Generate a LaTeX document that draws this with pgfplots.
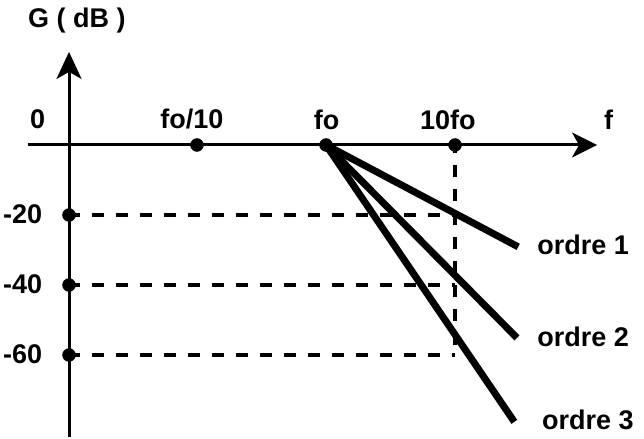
\documentclass[border=0pt]{standalone}
\usepackage{fontspec}
\setmainfont{Liberation Sans}
\usepackage{pgfplots}
\pgfplotsset{compat=1.18}
\usetikzlibrary{arrows.meta}
\newcommand\lbl{\bfseries\fontsize{27bp}{30bp}\selectfont}
\begin{document}
\begin{tikzpicture}
\begin{axis}[
  scale only axis, width=644bp, height=437bp,
  xmin=-2.527, xmax=2.465, ymin=-83.43, ymax=41.43,
  hide axis, clip=false,
]
\path (rel axis cs:0,0) rectangle (rel axis cs:1,1);
% dashed guides
\addplot[black, line width=3.2bp, dash pattern=on 12bp off 12bp] coordinates {(-2,-20) (1,-20)};
\addplot[black, line width=3.2bp, dash pattern=on 12bp off 12bp] coordinates {(-2,-40) (1,-40)};
\addplot[black, line width=3.2bp, dash pattern=on 12bp off 12bp] coordinates {(-2,-60) (1,-60)};
\addplot[black, line width=3.2bp, dash pattern=on 12bp off 12bp, dash phase=4bp] coordinates {(1,0) (1,-60)};
% axes
\addplot[black, line width=3bp, -{Stealth[length=25bp,width=25bp,inset=7bp]}] coordinates {(-2.310,0) (2.101,0)};
\addplot[black, line width=3bp, -{Stealth[length=27bp,width=25bp,inset=7bp]}] coordinates {(-1.992,-83.43) (-1.992,26.6)};
% asymptotes
\addplot[black, line width=7bp] coordinates {(0,0) (1.49,-29.1)};
\addplot[black, line width=7bp] coordinates {(0,0) (1.48,-55.1)};
\addplot[black, line width=7bp] coordinates {(0,0) (1.46,-79.1)};
% dots
\addplot[only marks, mark=*, mark size=6.5bp, black] coordinates {(-1,0) (0,0) (1,0) (-1.992,-20) (-1.992,-40) (-1.992,-60)};
% labels
\node[inner sep=0pt, anchor=base west] at (axis cs:-2.310,33.7) {\lbl G ( dB )};
\node[inner sep=0pt, anchor=base west] at (axis cs:-2.295,4.6) {\lbl 0};
\node[inner sep=0pt, anchor=base] at (axis cs:-1.040,4.6) {\lbl fo/10};
\node[inner sep=0pt, anchor=base] at (axis cs:0.005,4.3) {\lbl fo};
\node[inner sep=0pt, anchor=base] at (axis cs:0.945,4.3) {\lbl 10fo};
\node[inner sep=0pt, anchor=base] at (axis cs:2.19,4.3) {\lbl f};
\node[inner sep=0pt, anchor=base west] at (axis cs:-2.504,-22.3) {\lbl -20};
\node[inner sep=0pt, anchor=base west] at (axis cs:-2.504,-42.3) {\lbl -40};
\node[inner sep=0pt, anchor=base west] at (axis cs:-2.504,-62.5) {\lbl -60};
\node[inner sep=0pt, anchor=base west] at (axis cs:1.636,-31.4) {\lbl ordre 1};
\node[inner sep=0pt, anchor=base west] at (axis cs:1.636,-57.7) {\lbl ordre 2};
\node[inner sep=0pt, anchor=base west] at (axis cs:1.674,-81.4) {\lbl ordre 3};
\end{axis}
\end{tikzpicture}
\end{document}
